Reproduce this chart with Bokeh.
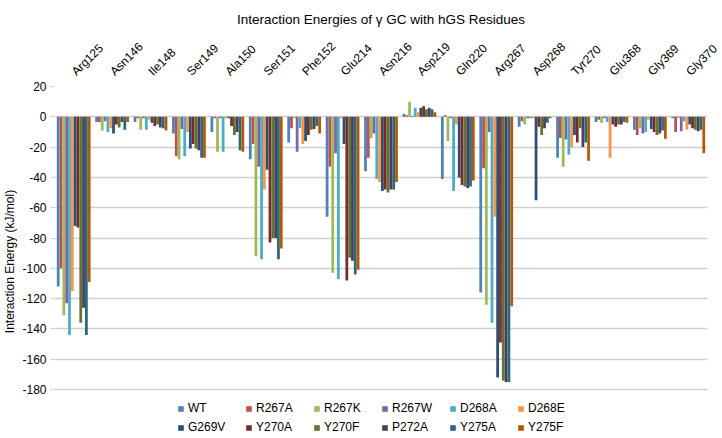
from math import pi
from bokeh.plotting import figure
from bokeh.models import ColumnDataSource, FixedTicker, Legend, LegendItem, Range1d
from bokeh.transform import dodge
from bokeh.embed import file_html
from bokeh.resources import INLINE

residues = ["Arg125", "Asn146", "Ile148", "Ser149", "Ala150", "Ser151", "Phe152", "Glu214",
            "Asn216", "Asp219", "Gln220", "Arg267", "Asp268", "Tyr270", "Glu368", "Gly369", "Gly370"]

series_names = ["WT", "R267A", "R267K", "R267W", "D268A", "D268E",
                "G269V", "Y270A", "Y270F", "P272A", "Y275A", "Y275F"]

WT    = [-112, -3.5, -3.5, -11, -10, -28, -17, -66, -36, 2, -41, -116, -6.5, -27, -3.5, -8.5, -1]
R267A = [-100, -3.5, -1, -26, -1, -18, -7.5, -33, -27, 1, 1, -34, -3, -14, -2, -12, -10]
R267K = [-131, -9, -8.5, -28, -23, -92, -1, -103, -14, 10, -16, -124, -5, -33, -4, -7.5, -1]
R267W = [-123, -3, -1, -8, -1, -33, -23, -24, -11, 0.5, -1, -10, -1, -15, -1, -11, -9.5]
D268A = [-144, -10, -8.5, -26, -23, -94, -7.5, -107, -41, 6, -49, -136, -1, -25, -3.5, -10, -3]
D268E = [-115, -7.5, -2, -10, -1, -48, -18, -1, -43, 3, -5, -66, -1, -20, -27, -2, -8.5]
G269V = [-72, -11, -4, -21, -1, -35, -16, -18, -49, 6, -40, -172, -55, -12, -5, -8, -5]
Y270A = [-73, -5, -6, -18, -6, -83, -12, -108, -48, 7, -45, -149, -6.5, -17, -6.5, -10, -7.5]
Y270F = [-136, -7, -5, -21, -12, -80, -8.5, -93, -50, 5, -46, -174, -12, -7.5, -5, -12, -8.5]
P272A = [-126, -3.5, -7, -22, -10, -80, -8, -95, -48, 6, -47, -175, -7.5, -20, -5, -11, -9.5]
Y275A = [-144, -8.5, -7.5, -27, -22, -94, -6, -104, -48, 5, -46, -175, -4, -17, -3.5, -9, -8.5]
Y275F = [-109, -3.5, -9, -27, -23, -87, -11, -101, -43, 3, -42, -125, -1, -29, -4, -14.5, -24]

y_ticks = [20, 0, -20, -40, -60, -80, -100, -120, -140, -160, -180]

colors = ["#4F81BD", "#C0504D", "#9BBB59", "#8064A2", "#4BACC6", "#F79646",
          "#2C4D75", "#772C2A", "#5F7530", "#4D3B62", "#276A7C", "#B65708"]

all_series = [WT, R267A, R267K, R267W, D268A, D268E, G269V, Y270A, Y270F, P272A, Y275A, Y275F]

data = {"res": residues}
for name, vals in zip(series_names, all_series):
    data[name] = vals
src = ColumnDataSource(data)

FONT = "Liberation Sans"

# the frame extends below -180 to leave room for the legend (no gridline there)
p = figure(x_range=residues, y_range=Range1d(-211, 20),
           width=722, height=438,
           x_axis_location="above",
           output_backend="svg", toolbar_location=None,
           title="Interaction Energies of \u03b3 GC with hGS Residues")
p.min_border_left = 53
p.min_border_right = 15
p.min_border_top = 86
p.min_border_bottom = 2
p.outline_line_color = None
p.background_fill_color = "white"
p.border_fill_color = "white"

p.title.text_font = FONT
p.title.text_font_size = "13.5px"
p.title.text_font_style = "normal"
p.title.align = "center"
p.title.text_color = "#000000"
p.title.standoff = 9

n = len(series_names)
group = 0.88
w = group / n
renderers = []
for i, (name, c) in enumerate(zip(series_names, colors)):
    off = (i - (n - 1) / 2) * w
    r = p.vbar(x=dodge("res", off, range=p.x_range), top=name, bottom=0, width=w * 0.98,
               source=src, fill_color=c, line_color=None)
    renderers.append((name, r))

# axes
xa = p.xaxis[0]
xa.major_label_orientation = pi / 4
xa.axis_line_color = None
xa.major_tick_line_color = None
xa.major_tick_out = 0
xa.major_tick_in = 0
xa.minor_tick_line_color = None
xa.major_label_text_font = FONT
xa.major_label_text_font_size = "12px"
xa.major_label_text_color = "#000000"
xa.major_label_standoff = 13

ya = p.yaxis[0]
ya.ticker = FixedTicker(ticks=y_ticks)
ya.major_label_overrides = {t: str(t) for t in y_ticks}
ya.axis_line_color = None
ya.major_tick_line_color = "#D0D0D0"
ya.major_tick_out = 4
ya.major_tick_in = 0
ya.minor_tick_line_color = None
ya.major_label_text_font = FONT
ya.major_label_text_font_size = "12px"
ya.major_label_text_color = "#000000"
ya.major_label_standoff = 4
ya.axis_label = "Interaction Energy (kJ/mol)"
ya.axis_label_text_font = FONT
ya.axis_label_text_font_size = "12px"
ya.axis_label_text_font_style = "normal"
ya.axis_label_text_color = "#000000"
ya.axis_label_standoff = 2

p.xgrid.grid_line_color = None
p.ygrid.ticker = FixedTicker(ticks=y_ticks)
p.ygrid.grid_line_color = "#D0D0D0"
p.ygrid.grid_line_width = 1.5

legend = Legend(items=[LegendItem(label=nm, renderers=[r]) for nm, r in renderers],
                ncols=6, orientation="horizontal", location=(123, 2))
legend.label_text_font = FONT
legend.label_text_font_size = "12px"
legend.label_text_color = "#000000"
legend.label_height = 12
legend.label_width = 52
legend.glyph_width = 7
legend.glyph_height = 7
legend.label_standoff = 4
legend.spacing = 5
legend.padding = 0
legend.margin = 0
legend.border_line_color = None
legend.background_fill_alpha = 0
p.add_layout(legend, "center")

open("out.html", "w").write(file_html(p, INLINE))
